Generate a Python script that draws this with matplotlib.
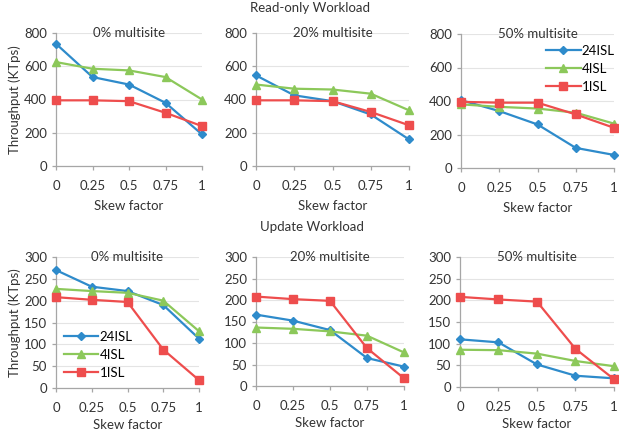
import matplotlib
matplotlib.use("Agg")
import matplotlib.pyplot as plt

plt.rcParams['font.family'] = ['Lato', 'DejaVu Sans']

skew = [0, 0.25, 0.5, 0.75, 1]
skew_labels = ['0', '0.25', '0.5', '0.75', '1']
panel_titles = ['0% multisite', '20% multisite', '50% multisite']

# Read-only workload (KTps)
ro_24isl = [[735, 535, 490, 380, 190], [545, 425, 390, 310, 160], [405, 340, 260, 120, 78]]
ro_4isl = [[625, 585, 575, 535, 400], [490, 465, 460, 435, 335], [380, 365, 355, 330, 265]]
ro_1isl = [[395, 395, 390, 320, 240], [395, 395, 390, 325, 245], [395, 390, 390, 320, 240]]

# Update workload (KTps)
up_24isl = [[270, 232, 222, 190, 113], [166, 152, 130, 65, 45], [110, 103, 52, 26, 20]]
up_4isl = [[227, 222, 218, 200, 130], [136, 133, 127, 117, 78], [86, 85, 77, 60, 48]]
up_1isl = [[208, 202, 197, 88, 18], [208, 202, 198, 88, 18], [208, 202, 197, 88, 18]]

blue = '#2E8BCB'
green = '#8CC85A'
red = '#EE4D4D'
W, H = 619, 432
FS = 9.5

fig = plt.figure(figsize=(W / 100, H / 100), dpi=100)

def make_ax(x0, x1, ytop, ybot):
    return fig.add_axes([x0 / W, 1 - ybot / H, (x1 - x0) / W, (ybot - ytop) / H])

# pixel boxes of the plot areas
top_boxes = [(56, 202, 33, 166), (256, 409, 33, 166), (461, 614, 34, 168)]
bot_boxes = [(56, 199, 257, 388), (256, 404, 257, 386), (460, 614, 257, 387)]

rows = [
    (top_boxes, ro_24isl, ro_4isl, ro_1isl, 800, 200, 6),
    (bot_boxes, up_24isl, up_4isl, up_1isl, 300, 50, 3.5),
]

for r, (boxes, s24, s4, s1, ymax, step, xpad) in enumerate(rows):
    for i, box in enumerate(boxes):
        ax = make_ax(*box)
        ax.plot(skew, s24[i], color=blue, marker='D', markersize=3.8, lw=1.6, label='24ISL', clip_on=False, zorder=3)
        ax.plot(skew, s4[i], color=green, marker='^', markersize=5.5, lw=1.6, label='4ISL', clip_on=False, zorder=3)
        ax.plot(skew, s1[i], color=red, marker='s', markersize=5.5, lw=1.6, label='1ISL', clip_on=False, zorder=3)
        ax.set_xlim(0, 1)
        ax.set_ylim(0, ymax)
        ax.set_yticks(range(0, ymax + 1, step))
        ax.set_xticks(skew)
        ax.set_xticklabels(skew_labels)
        ax.grid(axis='y', color='#E4E4E4', lw=0.8)
        ax.set_axisbelow(True)
        for side in ['top', 'right']:
            ax.spines[side].set_visible(False)
        for side in ['left', 'bottom']:
            ax.spines[side].set_color('#A6A6A6')
            ax.spines[side].set_linewidth(0.9)
        ax.tick_params(labelsize=FS, colors='#A6A6A6', labelcolor='#333333', length=3, width=0.9)
        ax.tick_params(axis='x', pad=7)
        ax.set_xlabel('Skew factor', fontsize=FS, color='#333333', labelpad=xpad)
        ax.text(0.5, 1.0, panel_titles[i], transform=ax.transAxes, ha='center', va='center',
                fontsize=FS, color='#333333')
        if i == 0:
            ax.set_ylabel('Throughput (KTps)', fontsize=FS, color='#333333', labelpad=2)
        if r == 0 and i == 2:
            ax.legend(loc='upper right', bbox_to_anchor=(1.04, 0.96), frameon=False, fontsize=FS,
                      handlelength=2.6, handletextpad=0.1, labelspacing=0.45, borderaxespad=0)
        if r == 1 and i == 0:
            ax.legend(loc='lower left', bbox_to_anchor=(0.02, 0.03), frameon=False, fontsize=FS,
                      handlelength=2.6, handletextpad=0.1, labelspacing=0.45, borderaxespad=0)

fig.text(310 / W, 1 - 8 / H, 'Read-only Workload', ha='center', va='center', fontsize=FS, color='#333333')
fig.text(312 / W, 1 - 227 / H, 'Update Workload', ha='center', va='center', fontsize=FS, color='#333333')

fig.savefig('out.png', dpi=100)
